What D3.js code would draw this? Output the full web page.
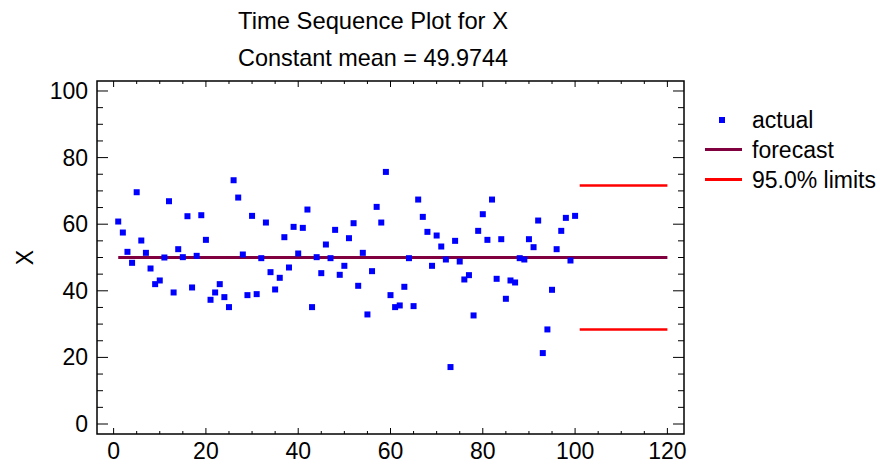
<!DOCTYPE html>
<html>
<head>
<meta charset="utf-8">
<script src="https://cdn.jsdelivr.net/npm/d3@7"></script>
<style>
	body { margin: 0; background: #fff; }
	.chartText { font-family: "Liberation Sans", Arial, sans-serif; fill: #000; }
</style>
</head>
<body>
<div id="seq_plot"></div>
<script>

// observed values, periods 1..100
let actualValues = [
	60.8, 57.5, 51.7, 48.4, 69.6, 55.1, 51.4, 46.7, 42.0, 43.1,
	50.0, 66.9, 39.5, 52.5, 50.1, 62.4, 41.0, 50.5, 62.7, 55.3,
	37.3, 39.5, 42.0, 38.1, 35.1, 73.2, 68.0, 50.9, 38.7, 62.5,
	39.0, 49.8, 60.5, 45.6, 40.4, 43.9, 56.1, 47.0, 59.2, 51.2,
	58.9, 64.4, 35.1, 50.1, 45.3, 53.9, 49.8, 58.3, 44.8, 47.5,
	55.8, 60.3, 41.5, 51.4, 32.9, 45.9, 65.2, 60.5, 75.7, 38.7,
	35.1, 35.6, 41.2, 49.8, 35.4, 67.4, 62.2, 57.7, 47.5, 56.6,
	53.3, 49.4, 17.1, 55.0, 48.8, 43.4, 44.7, 32.6, 58.0, 63.0,
	55.3, 67.4, 43.6, 55.5, 37.6, 43.1, 42.5, 49.8, 49.4, 55.5,
	53.1, 61.1, 21.3, 28.4, 40.3, 52.5, 58.0, 61.9, 49.1, 62.5
];

let meanValue = 49.9744;
let forecastRange = [1, 120];
let limitRange = [101, 120];
let upperLimit = 71.6;
let lowerLimit = 28.4;

let xTicks = [0, 20, 40, 60, 80, 100, 120];
let yTicks = [0, 20, 40, 60, 80, 100];

let titleLines = ["Time Sequence Plot for X", "Constant mean = 49.9744"];
let yLabel = "X";
let legendLabels = ["actual", "forecast", "95.0% limits"];


function seqPlot() {

	let margin = { top: 81, right: 197, bottom: 36, left: 97 },
		width = 881 - margin.left - margin.right,
		height = 470 - margin.top - margin.bottom;

	let svg = d3
		.select("#seq_plot")
		.append("svg")
		.attr("width", 881)
		.attr("height", 470);

	let g = svg.append("g")
		.attr("transform", "translate(" + margin.left + "," + margin.top + ")");

	let x = d3.scaleLinear().domain([-3.6, 123.6]).range([0, width]);
	let y = d3.scaleLinear().domain([-3, 103]).range([height, 0]);

	// inward ticks on all four sides, minor every 5
	let minorX = d3.range(0, 121, 5);
	let minorY = d3.range(0, 101, 5);

	function tickLen(v, big, small) { return v % 20 == 0 ? big : small; }

	g.selectAll(".xt").data(minorX).enter().append("line")
		.attr("x1", d => x(d)).attr("x2", d => x(d))
		.attr("y1", height).attr("y2", d => height - tickLen(d, 6, 3))
		.attr("stroke", "#000");
	g.selectAll(".xtt").data(minorX).enter().append("line")
		.attr("x1", d => x(d)).attr("x2", d => x(d))
		.attr("y1", 0).attr("y2", d => tickLen(d, 6, 3))
		.attr("stroke", "#000");
	g.selectAll(".yt").data(minorY).enter().append("line")
		.attr("y1", d => y(d)).attr("y2", d => y(d))
		.attr("x1", 0).attr("x2", d => tickLen(d, 11, 6))
		.attr("stroke", "#000");
	g.selectAll(".ytr").data(minorY).enter().append("line")
		.attr("y1", d => y(d)).attr("y2", d => y(d))
		.attr("x1", width).attr("x2", d => width - tickLen(d, 11, 6))
		.attr("stroke", "#000");

	// tick labels
	g.selectAll(".xl").data(xTicks).enter().append("text")
		.attr("class", "chartText")
		.attr("x", d => x(d)).attr("y", height + 25)
		.attr("text-anchor", "middle")
		.style("font-size", "23px")
		.text(d => d);
	g.selectAll(".yl").data(yTicks).enter().append("text")
		.attr("class", "chartText")
		.attr("x", -9).attr("y", d => y(d) + 8)
		.attr("text-anchor", "end")
		.style("font-size", "23px")
		.text(d => d);

	// forecast & limits
	let line = d3.line().x(d => x(d[0])).y(d => y(d[1]));

	g.append("path")
		.datum(forecastRange.map(v => [v, meanValue]))
		.attr("d", line)
		.attr("stroke", "#80003f").attr("stroke-width", 3).attr("fill", "none");

	[upperLimit, lowerLimit].forEach(function (lv) {
		g.append("path")
			.datum(limitRange.map(v => [v, lv]))
			.attr("d", line)
			.attr("stroke", "#ff0000").attr("stroke-width", 2.5).attr("fill", "none");
	});

	// points
	g.selectAll(".pt").data(actualValues).enter().append("rect")
		.attr("x", (d, i) => x(i + 1) - 3)
		.attr("y", d => y(d) - 3)
		.attr("width", 6).attr("height", 6)
		.attr("fill", "#0000ff");

	// frame
	g.append("rect")
		.attr("width", width).attr("height", height)
		.attr("fill", "none").attr("stroke", "#000").attr("stroke-width", 1.5);

	// titles (condensed a little, like the original)
	titleLines.forEach(function (t, i) {
		svg.append("text")
			.attr("class", "chartText")
			.attr("x", 373).attr("y", 29 + i * 37)
			.attr("text-anchor", "middle")
			.attr("textLength", 270)
			.attr("lengthAdjust", "spacingAndGlyphs")
			.style("font-size", "24px")
			.text(t);
	});

	svg.append("text")
		.attr("class", "chartText")
		.attr("transform", "translate(33," + (margin.top + y(50)) + ") rotate(-90)")
		.attr("text-anchor", "middle")
		.style("font-size", "23px")
		.text(yLabel);

	// legend
	let lg = svg.append("g").attr("transform", "translate(705,120)");
	lg.append("rect").attr("x", 14).attr("y", -3).attr("width", 6).attr("height", 6).attr("fill", "#0000ff");
	lg.append("line").attr("x1", 0).attr("x2", 37).attr("y1", 29.5).attr("y2", 29.5)
		.attr("stroke", "#80003f").attr("stroke-width", 3);
	lg.append("line").attr("x1", 0).attr("x2", 37).attr("y1", 59.5).attr("y2", 59.5)
		.attr("stroke", "#ff0000").attr("stroke-width", 3);
	legendLabels.forEach(function (t, i) {
		lg.append("text")
			.attr("class", "chartText")
			.attr("x", 47).attr("y", 8 + i * 30)
			.style("font-size", "23px")
			.text(t);
	});
}

seqPlot();

</script>
</body>
</html>
